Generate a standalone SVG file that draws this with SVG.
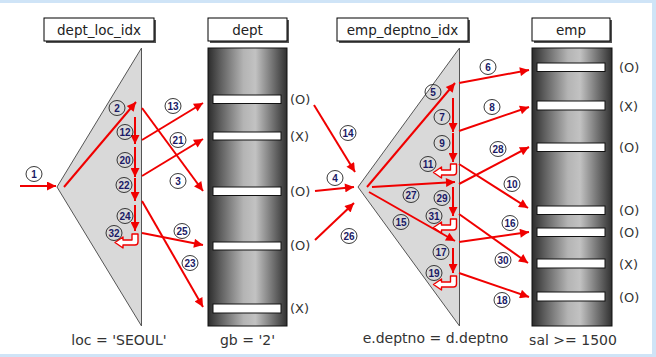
<svg xmlns="http://www.w3.org/2000/svg" width="656" height="357" viewBox="0 0 656 357">
<defs>
<style>
.box{fill:#fff;stroke:#000;stroke-width:1}
.shadow{fill:#555}
.title{font-family:"DejaVu Sans","Liberation Sans",sans-serif;font-size:13.5px;fill:#222;text-anchor:middle}
.tri{fill:#d9d9d9;stroke:#555;stroke-width:1}
.col{fill:url(#colg);stroke:#111;stroke-width:1}
.row{fill:#fff;stroke:#111;stroke-width:1}
.mk{font-family:"DejaVu Sans","Liberation Sans",sans-serif;font-size:13px;fill:#333}
.cap{font-family:"DejaVu Sans","Liberation Sans",sans-serif;font-size:14px;fill:#333;text-anchor:middle}
.c{fill:none;stroke:#222;stroke-width:0.9}
.n{font-family:"Liberation Sans",Arial,sans-serif;font-size:10px;font-weight:bold;fill:#1a1a66;text-anchor:middle}
.a{stroke:#f00000;stroke-width:2;fill:none;marker-end:url(#ah)}
.hook{fill:#fff;stroke:#f00000;stroke-width:1.4;stroke-linejoin:round}
</style>
<linearGradient id="colg" x1="0" y1="0" x2="1" y2="0">
<stop offset="0" stop-color="#2c2c2c"/>
<stop offset="0.15" stop-color="#5c5c5c"/>
<stop offset="0.45" stop-color="#b4b4b4"/>
<stop offset="0.6" stop-color="#c2c2c2"/>
<stop offset="0.85" stop-color="#676767"/>
<stop offset="1" stop-color="#303030"/>
</linearGradient>
<marker id="ah" viewBox="0 0 10 10" refX="10" refY="5" markerWidth="11" markerHeight="9" markerUnits="userSpaceOnUse" orient="auto">
<path d="M0,0 L10,5 L0,10 z" fill="#f00000"/>
</marker>
<path id="hk" d="M-3,0 L3,0 L3,8 Q3,11 0,11 L-12,11 L-12,14 L-20,8.5 L-12,3 L-12,6 L-3,6 Z"/>
</defs>

<rect x="0" y="0" width="656" height="357" fill="#cfe4f7"/>
<rect x="0" y="3" width="652" height="351" fill="#fff"/>

<g id="dept_loc_idx">
<rect class="shadow" x="46" y="20" width="110" height="23"/>
<rect class="box" x="44" y="18" width="110" height="23"/>
<text class="title" x="99" y="35">dept_loc_idx</text>
<polygon class="tri" points="141.5,48 57,187 141.5,326"/>
<text class="cap" x="119" y="345">loc = 'SEOUL'</text>
</g>

<g id="dept">
<rect class="shadow" x="210" y="20" width="79" height="23"/>
<rect class="box" x="208" y="18" width="79" height="23"/>
<text class="title" x="247.5" y="35">dept</text>
<rect class="col" x="208" y="48" width="79" height="278"/>
<rect class="row" x="213" y="95" width="68" height="8.5"/>
<rect class="row" x="213" y="132" width="68" height="8"/>
<rect class="row" x="213" y="187" width="68" height="8.5"/>
<rect class="row" x="213" y="242" width="68" height="8"/>
<rect class="row" x="213" y="304" width="68" height="9"/>
<text class="mk" x="290" y="104">(O)</text>
<text class="mk" x="290" y="141">(X)</text>
<text class="mk" x="290" y="196">(O)</text>
<text class="mk" x="290" y="250">(O)</text>
<text class="mk" x="290" y="313">(X)</text>
<text class="cap" x="247.5" y="345">gb = '2'</text>
</g>

<g id="emp_deptno_idx">
<rect class="shadow" x="339" y="20" width="131" height="23"/>
<rect class="box" x="337" y="18" width="131" height="23"/>
<text class="title" x="402.5" y="35">emp_deptno_idx</text>
<polygon class="tri" points="459.5,48 358,187 459.5,326"/>
<text class="cap" x="435.5" y="343">e.deptno = d.deptno</text>
</g>

<g id="emp">
<rect class="shadow" x="534" y="20" width="78" height="23"/>
<rect class="box" x="532" y="18" width="78" height="23"/>
<text class="title" x="571" y="35">emp</text>
<rect class="col" x="532" y="48" width="80" height="278"/>
<rect class="row" x="537" y="63" width="68" height="8.5"/>
<rect class="row" x="537" y="101" width="68" height="9"/>
<rect class="row" x="537" y="143" width="68" height="8.5"/>
<rect class="row" x="537" y="206" width="68" height="8.5"/>
<rect class="row" x="537" y="228" width="68" height="8.5"/>
<rect class="row" x="537" y="259" width="68" height="9"/>
<rect class="row" x="537" y="292" width="68" height="9"/>
<text class="mk" x="619" y="72">(O)</text>
<text class="mk" x="619" y="111">(X)</text>
<text class="mk" x="619" y="152">(O)</text>
<text class="mk" x="619" y="215">(O)</text>
<text class="mk" x="619" y="237">(O)</text>
<text class="mk" x="619" y="269">(X)</text>
<text class="mk" x="619" y="302">(O)</text>
<text class="cap" x="573" y="345">sal &gt;= 1500</text>
</g>

<g id="connectors">
<line class="a" x1="20" y1="186" x2="56" y2="186"/>
<line class="a" x1="64" y1="187" x2="136" y2="102"/>
<line class="a" x1="135" y1="117" x2="135" y2="144"/>
<line class="a" x1="135" y1="147" x2="135" y2="177"/>
<line class="a" x1="135" y1="178" x2="135" y2="201"/>
<line class="a" x1="135" y1="205" x2="135" y2="231"/>
<use href="#hk" class="hook" transform="translate(135,234)"/>
<line class="a" x1="142" y1="140" x2="203" y2="103"/>
<line class="a" x1="142" y1="176" x2="203" y2="139"/>
<line class="a" x1="142" y1="108" x2="203" y2="191"/>
<line class="a" x1="142" y1="233" x2="203" y2="245"/>
<line class="a" x1="142" y1="201" x2="203" y2="307"/>
<line class="a" x1="314" y1="105" x2="355" y2="172"/>
<line class="a" x1="315" y1="191" x2="354" y2="187"/>
<line class="a" x1="315" y1="240" x2="354" y2="203"/>
<line class="a" x1="367" y1="187" x2="455" y2="83"/>
<line class="a" x1="453" y1="98" x2="453" y2="132"/>
<line class="a" x1="453" y1="133" x2="453" y2="162"/>
<use href="#hk" class="hook" transform="translate(453.5,164)"/>
<line class="a" x1="459" y1="83" x2="529" y2="70"/>
<line class="a" x1="459" y1="131" x2="529" y2="107"/>
<line class="a" x1="459" y1="184" x2="529" y2="147"/>
<line class="a" x1="459" y1="164" x2="528" y2="208"/>
<line class="a" x1="372" y1="187" x2="455" y2="182"/>
<line class="a" x1="453" y1="187" x2="453" y2="216"/>
<use href="#hk" class="hook" transform="translate(453.5,219)"/>
<line class="a" x1="369" y1="192" x2="455" y2="241"/>
<line class="a" x1="459" y1="242" x2="529" y2="232"/>
<line class="a" x1="459" y1="214" x2="528" y2="263"/>
<line class="a" x1="453" y1="248" x2="453" y2="273"/>
<use href="#hk" class="hook" transform="translate(453.5,276)"/>
<line class="a" x1="459" y1="273" x2="529" y2="297"/>
</g>

<g id="steps">
<ellipse class="c" cx="34" cy="174" rx="8" ry="7.5"/><text class="n" x="34" y="177.5">1</text>
<ellipse class="c" cx="117" cy="108" rx="8" ry="7.5"/><text class="n" x="117" y="111.5">2</text>
<ellipse class="c" cx="125" cy="132" rx="8" ry="7.5"/><text class="n" x="125" y="135.5">12</text>
<ellipse class="c" cx="125" cy="160" rx="8" ry="7.5"/><text class="n" x="125" y="163.5">20</text>
<ellipse class="c" cx="124" cy="185" rx="8" ry="7.5"/><text class="n" x="124" y="188.5">22</text>
<ellipse class="c" cx="125" cy="216" rx="8" ry="7.5"/><text class="n" x="125" y="219.5">24</text>
<ellipse class="c" cx="114" cy="233" rx="8" ry="7.5"/><text class="n" x="114" y="236.5">32</text>
<ellipse class="c" cx="173" cy="106" rx="8" ry="7.5"/><text class="n" x="173" y="109.5">13</text>
<ellipse class="c" cx="178" cy="140" rx="8" ry="7.5"/><text class="n" x="178" y="143.5">21</text>
<ellipse class="c" cx="178" cy="181" rx="8" ry="7.5"/><text class="n" x="178" y="184.5">3</text>
<ellipse class="c" cx="182" cy="231" rx="8" ry="7.5"/><text class="n" x="182" y="234.5">25</text>
<ellipse class="c" cx="190" cy="263" rx="8" ry="7.5"/><text class="n" x="190" y="266.5">23</text>
<ellipse class="c" cx="348" cy="133" rx="8" ry="7.5"/><text class="n" x="348" y="136.5">14</text>
<ellipse class="c" cx="335" cy="178" rx="8" ry="7.5"/><text class="n" x="335" y="181.5">4</text>
<ellipse class="c" cx="349" cy="236" rx="8" ry="7.5"/><text class="n" x="349" y="239.5">26</text>
<ellipse class="c" cx="433" cy="92" rx="8" ry="7.5"/><text class="n" x="433" y="95.5">5</text>
<ellipse class="c" cx="488" cy="67" rx="8" ry="7.5"/><text class="n" x="488" y="70.5">6</text>
<ellipse class="c" cx="442" cy="117" rx="8" ry="7.5"/><text class="n" x="442" y="120.5">7</text>
<ellipse class="c" cx="492" cy="107" rx="8" ry="7.5"/><text class="n" x="492" y="110.5">8</text>
<ellipse class="c" cx="442" cy="143" rx="8" ry="7.5"/><text class="n" x="442" y="146.5">9</text>
<ellipse class="c" cx="428" cy="164" rx="8" ry="7.5"/><text class="n" x="428" y="167.5">11</text>
<ellipse class="c" cx="498" cy="149" rx="8" ry="7.5"/><text class="n" x="498" y="152.5">28</text>
<ellipse class="c" cx="512" cy="184" rx="8" ry="7.5"/><text class="n" x="512" y="187.5">10</text>
<ellipse class="c" cx="411" cy="195" rx="8" ry="7.5"/><text class="n" x="411" y="198.5">27</text>
<ellipse class="c" cx="442" cy="198" rx="8" ry="7.5"/><text class="n" x="442" y="201.5">29</text>
<ellipse class="c" cx="434" cy="216" rx="8" ry="7.5"/><text class="n" x="434" y="219.5">31</text>
<ellipse class="c" cx="401" cy="222" rx="8" ry="7.5"/><text class="n" x="401" y="225.5">15</text>
<ellipse class="c" cx="510" cy="223" rx="8" ry="7.5"/><text class="n" x="510" y="226.5">16</text>
<ellipse class="c" cx="441" cy="252" rx="8" ry="7.5"/><text class="n" x="441" y="255.5">17</text>
<ellipse class="c" cx="503" cy="260" rx="8" ry="7.5"/><text class="n" x="503" y="263.5">30</text>
<ellipse class="c" cx="434" cy="273" rx="8" ry="7.5"/><text class="n" x="434" y="276.5">19</text>
<ellipse class="c" cx="502" cy="300" rx="8" ry="7.5"/><text class="n" x="502" y="303.5">18</text>
</g>
</svg>
